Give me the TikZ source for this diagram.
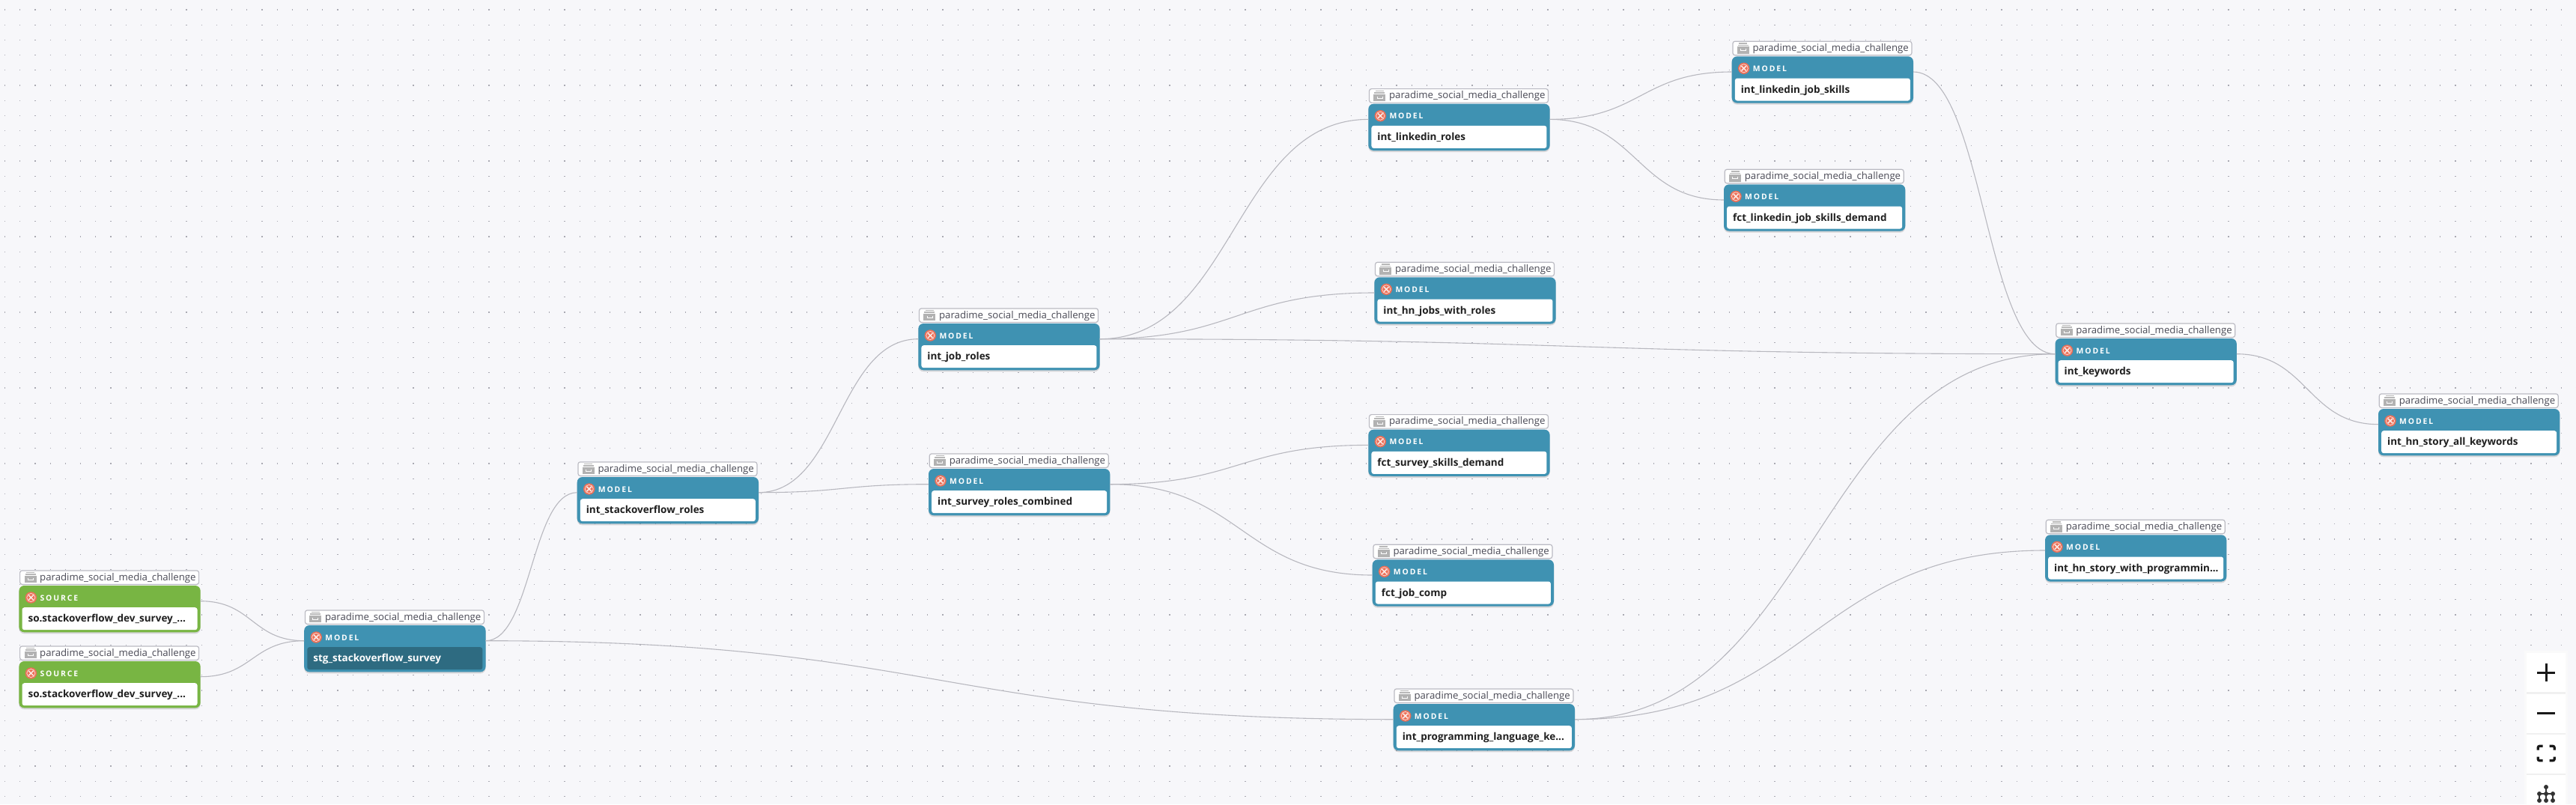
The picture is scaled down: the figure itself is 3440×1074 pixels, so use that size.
\documentclass[tikz,border=0pt]{standalone}
\usepackage{fontspec}
\usetikzlibrary{arrows.meta,positioning,calc,shadows}
\setmainfont{Open Sans}
\newfontfamily\capsfont[LetterSpace=18]{Open Sans}
\definecolor{canvas}{HTML}{F7F7FA}
\definecolor{griddot}{HTML}{A9A9B2}
\definecolor{modelblue}{HTML}{3F92B2}
\definecolor{modeldark}{HTML}{2E6B81}
\definecolor{sourcegreen}{HTML}{78B543}
\definecolor{tagline}{HTML}{BBBBC3}
\definecolor{tagtext}{HTML}{4A4A55}
\definecolor{cross}{HTML}{EC7058}
\definecolor{edgegray}{HTML}{B8B8BF}
\tikzset{
  cardbody/.style={rounded corners=7pt, inner sep=0pt, outer sep=0pt,
    minimum width=242.3pt, minimum height=62.3pt,
    drop shadow={shadow xshift=0pt, shadow yshift=-2pt, opacity=.28}},
  modelcard/.style={cardbody, fill=modelblue},
  sourcecard/.style={cardbody, fill=sourcegreen},
  cardinner/.style={rounded corners=3pt, inner sep=0pt, minimum width=234pt,
    minimum height=30pt, fill=white},
  darkinner/.style={cardinner, fill=modeldark},
  cardtag/.style={draw=tagline, fill=white, rounded corners=3pt, line width=1.2pt,
    inner sep=0pt, minimum width=239pt, minimum height=18.5pt},
  tagtextstyle/.style={inner sep=0pt, text=tagtext, font=\fontsize{13.2}{15}\selectfont},
  kindtext/.style={inner sep=0pt, text=white, font=\capsfont\bfseries\fontsize{10.4}{12}\selectfont},
  labeltext/.style={inner sep=0pt, text=black!88, font=\bfseries\fontsize{13.5}{15}\selectfont},
  edge/.style={draw=edgegray, line width=1.1pt},
  panelbtn/.style={fill=white, inner sep=0pt, minimum width=52pt, minimum height=52pt},
  paneldraw/.style={draw=black!90, line width=3.2pt}
}
% one card: inner style, name, left, top, style, kind, label
\newcommand{\card}[7][cardinner]{%
  \node[#5, anchor=north west] (#2) at (#3,#4) {};
  \node[#1, anchor=north] (#2-inner) at ([yshift=-29pt]#2.north) {};
  \node[cardtag, anchor=south west] (#2-tag) at ([yshift=1pt,xshift=.6pt]#2.north west) {};
  \fill[black!28] ([xshift=9pt,yshift=-2.5pt]#2-tag.north west) rectangle ++(11pt,-1.5pt);
  \fill[black!28] ([xshift=7.5pt,yshift=-5pt]#2-tag.north west) rectangle ++(14pt,-1.5pt);
  \fill[black!30] ([xshift=6.5pt,yshift=-7.5pt]#2-tag.north west) rectangle ++(16pt,-9.5pt);
  \draw[white, line width=.8pt] ([xshift=11pt,yshift=-10.5pt]#2-tag.north west) -- ++(0,-2.5pt) -- ++(7pt,0) -- ++(0,2.5pt);
  \node[tagtextstyle, anchor=west] (#2-repo) at ([xshift=27pt,yshift=-.5pt]#2-tag.west) {paradime\_social\_media\_challenge};
  \fill[cross] ([xshift=16pt,yshift=-16pt]#2.north west) circle (7.7pt);
  \draw[white!80!cross, line width=.7pt] ([xshift=16pt,yshift=-16pt]#2.north west) circle (5.6pt);
  \draw[white!85!cross, line width=1.5pt] ([xshift=12.8pt,yshift=-12.8pt]#2.north west) -- ++(6.4pt,-6.4pt)
    ([xshift=19.2pt,yshift=-12.8pt]#2.north west) -- ++(-6.4pt,-6.4pt);
  \node[kindtext, anchor=base west] (#2-kind) at ([xshift=28pt,yshift=-20pt]#2.north west) {#6};
  \node[labeltext, anchor=base west] (#2-label) at ([xshift=8pt,yshift=-4.5pt]#2-inner.west) {#7};
  \coordinate (#2-in) at ([yshift=-20.7pt]#2.north west);
  \coordinate (#2-out) at ([yshift=-20.7pt]#2.north east);
}
\newcommand{\link}[2]{%
  \draw[edge] let \p1=(#1-out), \p2=(#2-in), \n1={0.5*\x1+0.5*\x2} in
    (\p1) .. controls (\n1,\y1) and (\n1,\y2) .. (\p2);
}
\begin{document}
\begin{tikzpicture}[x=1pt,y=-1pt]
  \useasboundingbox (0,0) rectangle (3440,1074);
  \clip (0,0) rectangle (3440,1074);
  \fill[canvas] (0,0) rectangle (3440,1074);
  % dotted grid
  \foreach \gy in {0,...,52} {
    \draw[griddot, line width=1.2pt, dash pattern=on 1.2pt off 19pt] (5.9,{12.9+20.2*\gy}) -- (3440,{12.9+20.2*\gy});
  }
  % sources and staging
  \card{srcA}{25.4}{782}{sourcecard}{SOURCE}{so.stackoverflow\_dev\_survey\_...}
  \card{srcB}{25.4}{883}{sourcecard}{SOURCE}{so.stackoverflow\_dev\_survey\_...}
  \card[darkinner]{stgSurvey}{406.2}{835}{modelcard}{MODEL}{\textcolor{white}{stg\_stackoverflow\_survey}}
  % intermediate
  \card{soRoles}{770.7}{637}{modelcard}{MODEL}{int\_stackoverflow\_roles}
  \card{jobRoles}{1226.3}{432}{modelcard}{MODEL}{int\_job\_roles}
  \card{surveyRoles}{1240}{626}{modelcard}{MODEL}{int\_survey\_roles\_combined}
  \card{linkedinRoles}{1827.3}{138.7}{modelcard}{MODEL}{int\_linkedin\_roles}
  \card{hnJobs}{1835.3}{370.3}{modelcard}{MODEL}{int\_hn\_jobs\_with\_roles}
  \card{surveySkills}{1827.3}{573.7}{modelcard}{MODEL}{fct\_survey\_skills\_demand}
  \card{jobComp}{1832.7}{747.3}{modelcard}{MODEL}{fct\_job\_comp}
  \card{progLang}{1860.7}{940}{modelcard}{MODEL}{int\_programming\_language\_ke...}
  \card{linkedinSkills}{2312.7}{75.3}{modelcard}{MODEL}{int\_linkedin\_job\_skills}
  \card{linkedinDemand}{2302}{246.3}{modelcard}{MODEL}{fct\_linkedin\_job\_skills\_demand}
  \card{keywords}{2744.5}{452}{modelcard}{MODEL}{int\_keywords}
  \card{hnProg}{2731}{714.3}{modelcard}{MODEL}{int\_hn\_story\_with\_programmin...}
  \card{hnAll}{3176}{546}{modelcard}{MODEL}{int\_hn\_story\_all\_keywords}
  % connectors
  \link{srcA}{stgSurvey}
  \link{srcB}{stgSurvey}
  \link{stgSurvey}{soRoles}
  \link{stgSurvey}{progLang}
  \link{soRoles}{jobRoles}
  \link{soRoles}{surveyRoles}
  \link{jobRoles}{linkedinRoles}
  \link{jobRoles}{hnJobs}
  \link{jobRoles}{keywords}
  \link{surveyRoles}{surveySkills}
  \link{surveyRoles}{jobComp}
  \link{linkedinRoles}{linkedinSkills}
  \link{linkedinRoles}{linkedinDemand}
  \link{linkedinSkills}{keywords}
  \link{progLang}{keywords}
  \link{progLang}{hnProg}
  \link{keywords}{hnAll}
  % zoom panel
  \fill[black!2] (3371,869) rectangle (3429,1074);
  \fill[black!6] (3374,872) rectangle (3426,1074);
  \node[panelbtn, anchor=north west] (btnPlus) at (3374,872) {};
  \node[panelbtn, below=2pt of btnPlus] (btnMinus) {};
  \node[panelbtn, below=2pt of btnMinus] (btnFit) {};
  \node[panelbtn, below=2pt of btnFit] (btnTree) {};
  \draw[paneldraw] ([xshift=-12pt]btnPlus.center) -- ([xshift=12pt]btnPlus.center);
  \draw[paneldraw] ([yshift=-12pt]btnPlus.center) -- ([yshift=12pt]btnPlus.center);
  \draw[paneldraw] ([xshift=-12pt]btnMinus.center) -- ([xshift=12pt]btnMinus.center);
  \foreach \sx/\sy in {-1/-1,1/-1,-1/1,1/1} {
    \draw[paneldraw, rounded corners=2pt] ($(btnFit.center)+(\sx*11,\sy*4.5-1)$) -- ($(btnFit.center)+(\sx*11,\sy*9.7-1)$) -- ($(btnFit.center)+(\sx*4.5,\sy*9.7-1)$);
  }
  \draw[black!80, line width=1.2pt] (3400,1051) -- (3400,1069) (3391,1060) -- (3409,1060) (3391,1060) -- (3391,1069) (3409,1060) -- (3409,1069);
  \foreach \tx/\ty in {3400/1051,3391/1060,3400/1060,3409/1060,3391/1069,3400/1069,3409/1069} {
    \fill[black!80] (\tx,\ty) circle (3pt);
  }
\end{tikzpicture}
\end{document}
